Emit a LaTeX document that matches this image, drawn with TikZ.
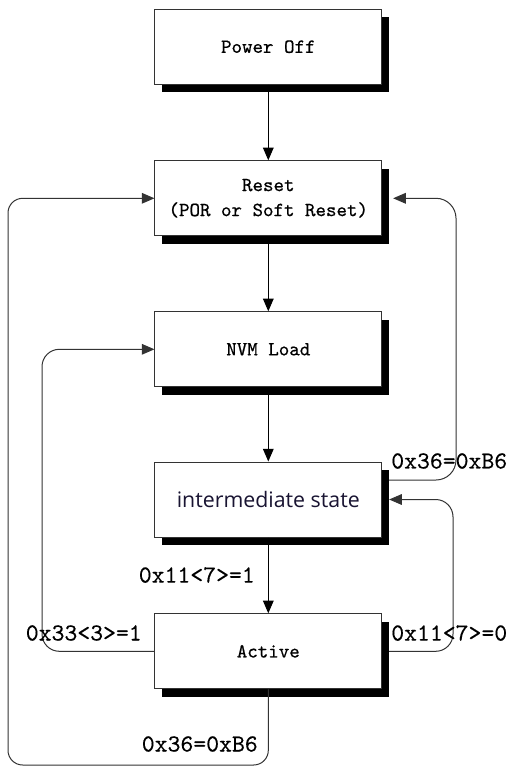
\documentclass[tikz,border=0pt]{standalone}
\usepackage{fontspec}
\newfontfamily\sansf{Open Sans}
\newfontfamily\monob[FakeBold=0.6]{lmmono10-regular.otf}
\newfontfamily\monol[FakeBold=0.3]{lmmono10-regular.otf}
\usetikzlibrary{arrows.meta,calc,shadows}
\definecolor{imtext}{RGB}{25,20,50}
\begin{document}
\begin{tikzpicture}[x=0.75pt,y=-0.75pt,
  box/.style={draw=black!80, line width=0.75pt, fill=white,
    minimum width=170pt, minimum height=56.25pt, inner sep=0pt, align=center,
    font=\fontsize{15}{18.75}\selectfont\monob,
    drop shadow={shadow xshift=5.25pt, shadow yshift=-6pt, opacity=1, fill=black}},
  arr/.style={draw=black, line width=0.75pt, -{Triangle[length=9.5pt,width=8pt]}},
  lp/.style={draw=black!80, line width=0.75pt, -{Triangle[length=9.5pt,width=8pt]}},
  lbl/.style={inner sep=0pt, font=\fontsize{18.4}{22}\selectfont\monol}
]
\useasboundingbox (0,0) rectangle (509,766);

\node[box] (po) at (268.3,46.7) {Power Off};
\node[box] (rs) at (268.3,198.3) {Reset\\(POR or Soft Reset)};
\node[box] (nvm) at (268.3,349.3) {NVM Load};
\node[box, font=\sansf\fontsize{16}{19}\selectfont, text=imtext] (im) at (268.3,499.5) {intermediate state};
\node[box] (ac) at (268.3,651.3) {Active};

\draw[arr] (po) -- (rs);
\draw[arr] (rs) -- (nvm);
\draw[arr] (nvm) -- (im);
\draw[arr] (im) -- (ac);

% outer left loop: Active -> Reset
\coordinate (olb) at (8,765);
\draw[lp, rounded corners=11pt] (ac.south) -- (ac.south |- olb) -- (olb) -- (olb |- rs.west) -- (rs.west);

% inner left loop: Active -> NVM Load
\coordinate (ilx) at (42,0);
\draw[lp, rounded corners=13pt] (ac.west) -- (ac.west -| ilx) -- (nvm.west -| ilx) -- (nvm.west);

% upper right loop: intermediate -> Reset
\coordinate (urs) at ($(im.east)+(7,-19.5)$);
\coordinate (urx) at (456,0);
\draw[lp, rounded corners=15pt, shorten >=8.25pt] (urs) -- (urs -| urx) -- (rs.east -| urx) -- (rs.east);

% lower right loop: Active -> intermediate
\coordinate (lrs) at ($(ac.east)+(7,0)$);
\coordinate (lrx) at (453,0);
\draw[lp, rounded corners=13pt, shorten >=5.25pt] (lrs) -- (lrs -| lrx) -- (im.east -| lrx) -- (im.east);

\node[lbl, anchor=west] (l1) at (391,461) {0x36=0xB6};
\node[lbl, anchor=west] (l2) at (391,633) {0x11<7>=0};
\node[lbl, anchor=east] (l3) at (142,633) {0x33<3>=1};
\node[lbl, anchor=east] (l4) at (255,575) {0x11<7>=1};
\node[lbl, anchor=east] (l5) at (258,744) {0x36=0xB6};
\end{tikzpicture}
\end{document}
